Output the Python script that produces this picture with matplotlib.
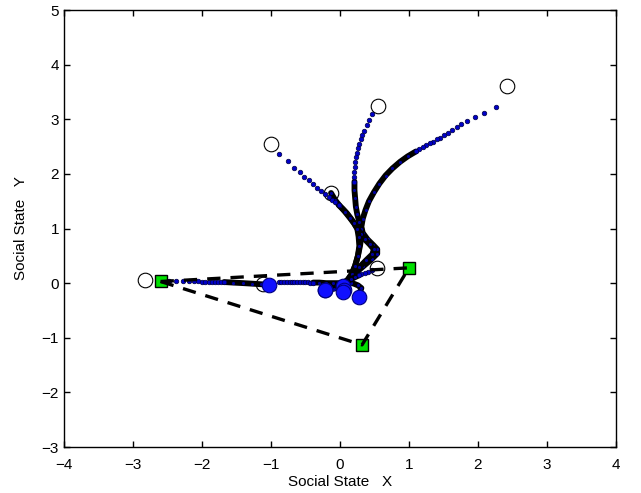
import numpy as np
import matplotlib
matplotlib.use('Agg')
import matplotlib.pyplot as plt

plt.rcParams['font.family'] = ['Liberation Sans', 'DejaVu Sans']

# start / end positions of the agents
start_x = [2.42, 0.55, -1.00, -0.13, 0.53, -2.83, -1.12]
start_y = [3.60, 3.25, 2.55, 1.65, 0.27, 0.05, -0.02]
end_x = [0.27, 0.05, 0.06, -0.21, 0.04, -1.03, -0.21]
end_y = [-0.25, -0.05, -0.12, -0.13, -0.16, -0.03, -0.13]

dots1_x = [2.26, 2.08, 1.96, 1.84, 1.76, 1.69, 1.62, 1.56, 1.51, 1.45, 1.40, 1.35, 1.30, 1.25, 1.20, 1.15, 1.10]
dots1_y = [3.22, 3.12, 3.04, 2.97, 2.91, 2.85, 2.80, 2.75, 2.71, 2.66, 2.63, 2.59, 2.56, 2.52, 2.49, 2.45, 2.41]
dots2_x = [0.47, 0.42, 0.39, 0.35, 0.32, 0.30, 0.28, 0.26, 0.245, 0.23, 0.22, 0.215, 0.21, 0.21, 0.21]
dots2_y = [3.10, 2.99, 2.89, 2.79, 2.71, 2.63, 2.55, 2.47, 2.39, 2.31, 2.22, 2.13, 2.04, 1.95, 1.86]
dots3_x = [-0.88, -0.76, -0.67, -0.58, -0.52, -0.45, -0.39, -0.33, -0.27, -0.21, -0.16, -0.12, -0.07, -0.02]
dots3_y = [2.36, 2.23, 2.11, 2.03, 1.94, 1.89, 1.82, 1.75, 1.69, 1.63, 1.58, 1.53, 1.48, 1.43]
dots5_x = [0.47, 0.41, 0.36, 0.31, 0.27]
dots5_y = [0.24, 0.21, 0.18, 0.16, 0.14]
dots6_x = [-2.48, -2.38, -2.28, -2.19, -2.12, -2.06, -2.00, -1.96, -1.90, -1.86, -1.81, -1.77, -1.72, -1.68]
dots6_y = [0.03, 0.03, 0.03, 0.03, 0.03, 0.03, 0.02, 0.02, 0.02, 0.02, 0.02, 0.02, 0.02, 0.02]
dots7_x = [-0.89, -0.85, -0.81, -0.77, -0.73, -0.70, -0.66, -0.62, -0.58, -0.54, -0.50, -0.46, -0.43, -0.39]
dots7_y = [0.02, 0.02, 0.02, 0.02, 0.02, 0.015, 0.015, 0.015, 0.015, 0.015, 0.015, 0.015, 0.01, 0.01]

# dense (converged) parts of the paths, drawn as thick black curves
path1_x = [1.10, 0.98, 0.87, 0.76, 0.66, 0.57, 0.49, 0.42, 0.37, 0.33, 0.31, 0.33, 0.40,
           0.48, 0.54, 0.54, 0.46, 0.34, 0.22, 0.13, 0.16, 0.26, 0.31, 0.29, 0.27]
path1_y = [2.41, 2.32, 2.22, 2.10, 1.97, 1.82, 1.66, 1.50, 1.34, 1.18, 1.03, 0.92, 0.80,
           0.70, 0.62, 0.54, 0.44, 0.31, 0.18, 0.07, 0.01, -0.04, -0.09, -0.17, -0.25]
path2_x = [0.21, 0.21, 0.22, 0.23, 0.25, 0.28, 0.31, 0.31, 0.29, 0.26, 0.22, 0.17, 0.11, 0.07, 0.05]
path2_y = [1.86, 1.70, 1.55, 1.40, 1.26, 1.12, 1.00, 0.85, 0.68, 0.50, 0.32, 0.16, 0.05, 0.00, -0.05]
path3_x = [-0.02, 0.04, 0.10, 0.16, 0.21, 0.25, 0.30, 0.36, 0.43, 0.49, 0.47, 0.38, 0.28, 0.18, 0.11, 0.07, 0.06]
path3_y = [1.43, 1.36, 1.28, 1.18, 1.09, 1.00, 0.90, 0.80, 0.71, 0.62, 0.53, 0.42, 0.29, 0.15, 0.04, -0.05, -0.12]
path4_x = [-0.13, -0.07, 0.00, 0.07, 0.14, 0.20, 0.25, 0.27, 0.28, 0.26, 0.22, 0.17, 0.11, 0.02, -0.08, -0.21]
path4_y = [1.65, 1.52, 1.41, 1.31, 1.20, 1.10, 1.00, 0.85, 0.68, 0.50, 0.32, 0.17, 0.06, -0.02, -0.08, -0.13]
path5_x = [0.27, 0.22, 0.16, 0.10, 0.06, 0.04]
path5_y = [0.14, 0.11, 0.07, 0.02, -0.06, -0.16]
path6_x = [-1.68, -1.55, -1.40, -1.27, -1.15, -1.03]
path6_y = [0.02, 0.01, 0.00, -0.01, -0.02, -0.03]
path7_x = [-0.39, -0.30, -0.20, -0.10, -0.02, 0.05, 0.10, 0.04, -0.08, -0.21]
path7_y = [0.01, 0.01, 0.00, 0.00, 0.00, 0.00, 0.01, -0.05, -0.10, -0.13]

# leaders (green squares)
lead_x = [-2.60, 1.00, 0.32]
lead_y = [0.03, 0.28, -1.13]

dots = [(dots1_x, dots1_y), (dots2_x, dots2_y), (dots3_x, dots3_y),
        (dots5_x, dots5_y), (dots6_x, dots6_y), (dots7_x, dots7_y)]
paths = [(path1_x, path1_y), (path2_x, path2_y), (path3_x, path3_y), (path4_x, path4_y),
         (path5_x, path5_y), (path6_x, path6_y), (path7_x, path7_y)]

fig = plt.figure(figsize=(6.41, 4.93), dpi=100)
ax = fig.add_axes([0.0998, 0.0933, 0.8612, 0.8864])

ax.plot(start_x, start_y, 'o', ms=10.5, mfc='white', mec='black', mew=0.8, zorder=2)

for px, py in paths:
    ax.plot(px, py, '-', color='black', lw=4.2, solid_capstyle='round',
            solid_joinstyle='round', zorder=3)
    ax.plot(px, py, '.', color='#0000a0', ms=2.5, zorder=3)

for dx, dy in dots:
    ax.plot(dx, dy, 'o', ms=3.3, mfc='#0000c8', mec='#000040', mew=0.5, zorder=4)

ax.plot(end_x, end_y, 'o', ms=10.5, mfc='#1010ff', mec='#000080', mew=0.8, zorder=5)

ax.plot(lead_x, lead_y, 's', ms=8.5, mfc='#00e000', mec='black', mew=1, zorder=6)
tri_x = lead_x + [lead_x[0]]
tri_y = lead_y + [lead_y[0]]
ax.plot(tri_x, tri_y, '--', color='black', lw=2.4, dashes=(4, 3), zorder=7)

ax.set_xlim(-4, 4)
ax.set_ylim(-3, 5)
ax.set_xticks(np.arange(-4, 5, 1))
ax.set_yticks(np.arange(-3, 6, 1))
ax.tick_params(direction='in', top=True, right=True, length=4, labelsize=11, width=1)
ax.tick_params(axis='x', pad=8)
for s in ax.spines.values():
    s.set_linewidth(1)
ax.set_xlabel('Social State   X', fontsize=11, labelpad=2)
ax.set_ylabel('Social State   Y', fontsize=11, labelpad=10)

fig.savefig('out.png', dpi=100)
